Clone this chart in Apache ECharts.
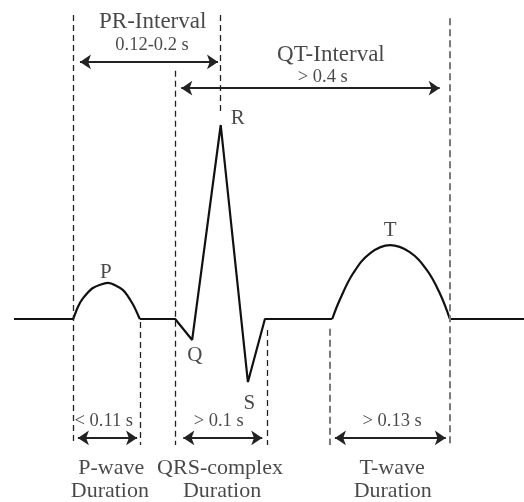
<!DOCTYPE html>
<html>
<head>
<meta charset="utf-8">
<script src="https://cdn.jsdelivr.net/npm/echarts@6/dist/echarts.min.js"></script>
<style>
  html, body { margin: 0; padding: 0; background: #fff; }
  #chart { width: 524px; height: 502px; }
</style>
</head>
<body>
<div id="chart"></div>
<script>
// time in seconds, amplitude in mV
const traceTime = [0, 0.087, null, 0.185, 0.237, 0.262, 0.304, 0.344, 0.369, 0.468, null, 0.641, 0.75];
const traceAmp  = [0, 0,     null, 0,     0,     -0.108, 1.0,  -0.325, 0,    0,     null, 0,     0];

const pWaveTime = [0.087, 0.094, 0.101, 0.116, 0.138, 0.160, 0.175, 0.185];
const pWaveAmp  = [0,     0.062, 0.105, 0.16,  0.186, 0.15,  0.075, 0];

const tWaveTime = [0.468, 0.479, 0.499, 0.524, 0.553, 0.582, 0.607, 0.626, 0.641];
const tWaveAmp  = [0,     0.098, 0.237, 0.34,  0.381, 0.345, 0.253, 0.134, 0];

// dashed guide lines
const guideTime   = [0.087, 0.185, 0.237, 0.304, 0.372, 0.465, 0.641];
const guideTop    = [1.567, -0.015, 1.28, 1.567, -0.057, -0.05, 1.55];
const guideBottom = [-0.65, -0.65, -0.65, 1.07, -0.65, -0.65, -0.655];

// interval arrows
const intervalNames = ['PR-Interval', 'QT-Interval', 'P-wave Duration', 'QRS-complex Duration', 'T-wave Duration'];
const intervalStart = [0.097, 0.246, 0.094, 0.249, 0.472];
const intervalEnd   = [0.300, 0.626, 0.181, 0.365, 0.635];
const intervalLevel = [1.325, 1.19, -0.613, -0.613, -0.613];

// text annotations
const labelText = ['PR-Interval', '0.12-0.2 s', 'QT-Interval', '> 0.4 s', 'R', 'T', 'P', 'Q', 'S',
  '< 0.11 s', '> 0.1 s', '> 0.13 s', 'P-wave', 'QRS-complex', 'T-wave', 'Duration', 'Duration', 'Duration'];
const labelTime = [0.204, 0.203, 0.466, 0.454, 0.329, 0.553, 0.135, 0.266, 0.346,
  0.132, 0.301, 0.556, 0.143, 0.303, 0.556, 0.141, 0.306, 0.557];
const labelAmp = [1.531, 1.412, 1.361, 1.247, 1.036, 0.454, 0.242, -0.186, -0.433,
  -0.526, -0.526, -0.526, -0.768, -0.768, -0.768, -0.887, -0.887, -0.887];

const pair = (xs, ys) => xs.map((x, i) => (x === null ? '-' : [x, ys[i]]));

const fontFor = (t) => {
  if (t.length === 1) return 21;
  if (/\d/.test(t)) return 18.5;
  if (t.indexOf('Interval') >= 0) return 23;
  return 22;
};

const chart = echarts.init(document.getElementById('chart'));

const guides = guideTime.map((t, i) => {
  const heavy = i >= 5;
  return [
    { coord: [t, guideTop[i]], lineStyle: {
      type: heavy ? [7, 4] : [6, 4],
      width: heavy ? 2 : 1.3,
      color: heavy ? '#7a7a7a' : '#222'
    } },
    { coord: [t, guideBottom[i]] }
  ];
});

const arrows = intervalNames.map((n, i) => [
  { name: n, coord: [intervalStart[i], intervalLevel[i]] },
  { coord: [intervalEnd[i], intervalLevel[i]] }
]);

const option = {
  animation: false,
  backgroundColor: '#fff',
  grid: { left: 14, right: 0, top: 8.6, bottom: 8.4 },
  xAxis: { type: 'value', min: 0, max: 0.75, show: false },
  yAxis: { type: 'value', min: -0.9, max: 1.6, show: false },
  series: [
    {
      name: 'ECG',
      type: 'line',
      data: pair(traceTime, traceAmp),
      symbol: 'none',
      connectNulls: false,
      lineStyle: { color: '#111', width: 2.2 },
      silent: true,
      markLine: {
        silent: true,
        symbol: ['none', 'none'],
        label: { show: false },
        data: guides
      }
    },
    {
      name: 'P wave',
      type: 'line',
      data: pair(pWaveTime, pWaveAmp),
      smooth: 0.25,
      symbol: 'none',
      lineStyle: { color: '#111', width: 2.2 },
      silent: true
    },
    {
      name: 'T wave',
      type: 'line',
      data: pair(tWaveTime, tWaveAmp),
      smooth: 0.4,
      symbol: 'none',
      lineStyle: { color: '#111', width: 2.2 },
      silent: true,
      markLine: {
        silent: true,
        symbol: ['arrow', 'arrow'],
        symbolSize: 11,
        label: { show: false },
        lineStyle: { type: 'solid', color: '#222', width: 2 },
        data: arrows
      }
    },
    {
      name: 'labels',
      type: 'scatter',
      symbolSize: 1,
      itemStyle: { color: 'rgba(0,0,0,0)' },
      silent: true,
      clip: false,
      data: labelText.map((t, i) => ({
        name: t,
        value: [labelTime[i], labelAmp[i]],
        label: { fontSize: fontFor(t) }
      })),
      label: {
        show: true,
        position: 'inside',
        formatter: (p) => p.name,
        fontFamily: 'Liberation Serif',
        color: '#1a1a1a'
      }
    }
  ]
};

chart.setOption(option);
</script>
</body>
</html>
